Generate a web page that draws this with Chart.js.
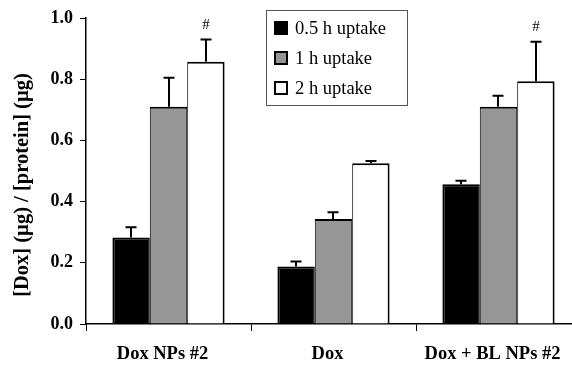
<!DOCTYPE html>
<html>
<head>
<meta charset="utf-8">
<script src="https://cdn.jsdelivr.net/npm/chart.js@4/dist/chart.umd.min.js"></script>
<style>
  html, body { margin: 0; padding: 0; background: #fff; overflow: hidden; }
  canvas { display: block; }
</style>
</head>
<body>
<canvas id="uptakeChart" width="590" height="366"></canvas>
<script>
// Dox uptake per protein, by formulation and incubation time
const categories = ['Dox NPs #2', 'Dox', 'Dox + BL NPs #2'];
const seriesLabels = ['0.5 h uptake', '1 h uptake', '2 h uptake'];

const uptake05h = [0.283, 0.188, 0.457];
const uptake1h = [0.710, 0.343, 0.710];
const uptake2h = [0.857, 0.525, 0.793];

// upper error bars (SD)
const err05h = [0.033, 0.016, 0.011];
const err1h = [0.095, 0.022, 0.036];
const err2h = [0.073, 0.008, 0.129];

// '#' significance marks, per series and category
const marks2h = ['#', '', '#'];

const yTicks = [0, 0.2, 0.4, 0.6, 0.8, 1.0];
const yTitle = '[Dox] (µg) / [protein] (µg)';

const serif = "'Liberation Serif', 'Times New Roman', serif";

// Draws the upward error bars, '#' marks, y title and the boxed legend
const extrasPlugin = {
    id: 'extras',
    afterDatasetsDraw(chart, args, opts) {
        const ctx = chart.ctx;
        const y = chart.scales.y;
        ctx.save();
        ctx.strokeStyle = '#000';
        ctx.lineWidth = 2;
        chart.data.datasets.forEach((ds, i) => {
            const meta = chart.getDatasetMeta(i);
            meta.data.forEach((bar, j) => {
                const top = y.getPixelForValue(ds.data[j] + ds.errors[j]);
                const x = Math.round(bar.x);
                ctx.beginPath();
                ctx.moveTo(x, bar.y);
                ctx.lineTo(x, top);
                ctx.moveTo(x - opts.capWidth / 2, top);
                ctx.lineTo(x + opts.capWidth / 2, top);
                ctx.stroke();
                if (ds.marks && ds.marks[j]) {
                    ctx.fillStyle = '#000';
                    ctx.font = '15px ' + serif;
                    ctx.textAlign = 'center';
                    ctx.textBaseline = 'bottom';
                    ctx.fillText(ds.marks[j], x, top - 7);
                }
            });
        });

        // y axis title, sitting a little below the axis middle
        ctx.save();
        ctx.translate(opts.titleX, opts.titleY);
        ctx.rotate(-Math.PI / 2);
        ctx.fillStyle = '#000';
        ctx.font = 'bold 20.5px ' + serif;
        ctx.textAlign = 'center';
        ctx.textBaseline = 'middle';
        ctx.fillText(yTitle, 0, 0);
        ctx.restore();

        // legend box
        const lg = opts.legend;
        ctx.fillStyle = '#fff';
        ctx.fillRect(lg.left, lg.top, lg.width, lg.height);
        ctx.strokeStyle = '#555';
        ctx.lineWidth = 1;
        ctx.strokeRect(lg.left + 0.5, lg.top + 0.5, lg.width, lg.height);
        ctx.font = '18.5px ' + serif;
        ctx.textAlign = 'left';
        ctx.textBaseline = 'middle';
        chart.data.datasets.forEach((ds, i) => {
            const cy = lg.top + lg.firstRow + i * lg.rowGap;
            ctx.fillStyle = ds.backgroundColor;
            ctx.fillRect(lg.left + 9, cy - 6, 12, 12);
            ctx.strokeStyle = '#000';
            ctx.lineWidth = 2;
            ctx.strokeRect(lg.left + 9, cy - 6, 12, 12);
            ctx.fillStyle = '#000';
            ctx.fillText(ds.label, lg.left + 29, cy + 1);
        });
        ctx.restore();
    }
};

const ctx = document.getElementById('uptakeChart').getContext('2d');
const uptakeChart = new Chart(ctx, {
    type: 'bar',
    data: {
        labels: categories,
        datasets: [{
            label: seriesLabels[0],
            data: uptake05h,
            errors: err05h,
            backgroundColor: '#000000',
            borderColor: '#000',
            borderWidth: { top: 2, left: 2, right: 1, bottom: 0 }
        }, {
            label: seriesLabels[1],
            data: uptake1h,
            errors: err1h,
            backgroundColor: '#969696',
            borderColor: '#000',
            borderWidth: { top: 2, left: 1, right: 1, bottom: 0 }
        }, {
            label: seriesLabels[2],
            data: uptake2h,
            errors: err2h,
            marks: marks2h,
            backgroundColor: '#ffffff',
            borderColor: '#000',
            borderWidth: { top: 2, left: 1, right: 2, bottom: 0 }
        }]
    },
    options: {
        responsive: false,
        animation: false,
        devicePixelRatio: 1,
        categoryPercentage: 0.68,
        barPercentage: 1,
        layout: { padding: { top: 18, right: 9, left: 0, bottom: 0 } },
        plugins: {
            legend: { display: false },
            tooltip: { enabled: false },
            extras: {
                capWidth: 11,
                titleX: 23,
                titleY: 185,
                legend: { left: 266, top: 10, width: 141, height: 95, firstRow: 18, rowGap: 30 }
            }
        },
        scales: {
            x: {
                afterFit(scale) { scale.height = 42; },
                grid: { offset: true, drawOnChartArea: false, drawTicks: true, tickLength: 7, color: '#000', lineWidth: 1 },
                border: { display: true, color: '#000', width: 1.5 },
                ticks: {
                    color: '#000',
                    padding: 12,
                    labelOffset: -6,
                    font: { family: serif, size: 18.5, weight: 'bold' }
                }
            },
            y: {
                min: 0,
                max: 1.0,
                afterFit(scale) { scale.width = 86; },
                afterBuildTicks(scale) { scale.ticks = yTicks.map(v => ({ value: v })); },
                grid: { drawOnChartArea: false, drawTicks: true, tickLength: 6, color: '#000', lineWidth: 1 },
                border: { display: true, color: '#000', width: 1.5 },
                ticks: {
                    color: '#000',
                    padding: 7,
                    font: { family: serif, size: 18, weight: 'bold' },
                    callback: v => v.toFixed(1)
                }
            }
        }
    },
    plugins: [extrasPlugin]
});
</script>
</body>
</html>
